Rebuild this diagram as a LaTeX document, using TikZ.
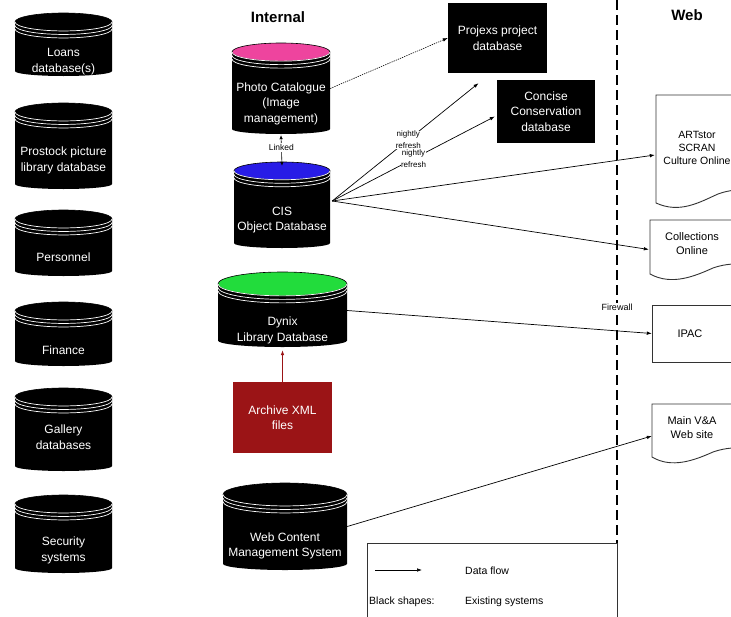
\documentclass[tikz,border=0pt]{standalone}
\usepackage{fontspec}
\setmainfont{Liberation Sans}
\usetikzlibrary{arrows.meta,calc}

\definecolor{pinktop}{RGB}{238,68,158}
\definecolor{bluetop}{RGB}{40,28,230}
\definecolor{greentop}{RGB}{34,220,60}
\definecolor{archred}{RGB}{155,20,22}

% #1 name, #2 centre x, #3 top y, #4 bottom y (pixels, downwards), #5 half width, #6 top colour
\newcommand{\dbcyl}[6]{%
  \pgfmathsetmacro\cyry{#5*0.185}%
  \pgfmathsetmacro\cyrb{#5*0.1}%
  \pgfmathsetmacro\cyt{-(#3)-\cyry}%
  \pgfmathsetmacro\cyb{-(#4)+\cyrb}%
  \fill[black] (#2-#5,\cyt) -- (#2-#5,\cyb) arc[start angle=180,end angle=360,x radius=#5pt,y radius=\cyrb pt] -- (#2+#5,\cyt) -- cycle;
  \filldraw[fill=#6,draw=black,line width=0.6pt] (#2,\cyt) ellipse[x radius=#5pt,y radius=\cyry pt];
  \foreach \k in {0,3.5,7} \draw[white,line width=0.7pt] (#2-#5,\cyt-\k) arc[start angle=180,end angle=360,x radius=#5pt,y radius=\cyry pt];
  \node[inner sep=0,minimum width=2*#5,minimum height=#4-#3] (#1) at (#2,{-(#3+#4)/2}) {};
}

\tikzset{
  cyltext/.style={text=white,align=center,inner sep=0,font=\fontsize{12}{15.5}\selectfont},
  blackbox/.style={fill=black,text=white,align=center,inner sep=0,font=\fontsize{12}{15.5}\selectfont},
  doctext/.style={text=black,align=center,inner sep=0,font=\fontsize{11}{14.5}\selectfont},
  docline/.style={draw=black!80,line width=0.9pt,fill=white},
  anchorbox/.style={inner sep=0},
  flow/.style={-{Latex[length=5pt,width=3.6pt]},line width=0.7pt},
  nightly/.style={fill=white,align=center,inner sep=0.5pt,font=\fontsize{8}{11.5}\selectfont},
  smalllabel/.style={fill=white,inner sep=1pt,font=\fontsize{8.5}{10}\selectfont},
  titletext/.style={font=\bfseries\fontsize{15}{17}\selectfont,inner sep=0},
  legendtext/.style={anchor=west,inner sep=0,font=\fontsize{10.5}{12}\selectfont}
}

\begin{document}
\begin{tikzpicture}[x=1pt,y=1pt]
\useasboundingbox (0,0) rectangle (731,-616);
\clip (0,0) rectangle (731,-616);
\fill[white] (0,0) rectangle (731,-616);

% titles
\node[titletext] (internal) at (278,-17) {Internal};
\node[titletext] (web) at (687,-15) {Web};

% firewall line
\coordinate (fwtop) at (617,0);
\coordinate (fwbot) at (617,-543);
\draw[line width=1.1pt,dash pattern=on 10pt off 5pt] (fwtop) -- (fwbot);

% left column cylinders
\dbcyl{loans}{63.5}{13}{76}{48.5}{black}
\node[cyltext] (loanst) at (63.5,-61.5) {Loans\\database(s)};
\dbcyl{prostock}{63.5}{103}{189}{48.5}{black}
\node[cyltext] (prostockt) at (63.5,-160.5) {Prostock picture\\library database};
\dbcyl{personnel}{63.5}{210}{276}{48.5}{black}
\node[cyltext] (personnelt) at (63.5,-257) {Personnel};
\dbcyl{finance}{63.5}{302}{366}{48.5}{black}
\node[cyltext] (financet) at (63.5,-350) {Finance};
\dbcyl{gallery}{63.5}{388}{471}{48.5}{black}
\node[cyltext] (galleryt) at (63.5,-437) {Gallery\\databases};
\dbcyl{security}{63.5}{495}{573}{48.5}{black}
\node[cyltext] (securityt) at (63.5,-550.5) {Security\\systems};

% middle column
\dbcyl{photo}{281}{43}{134}{49}{pinktop}
\node[cyltext] (photot) at (281,-103.5) {Photo Catalogue\\(Image\\management)};
\dbcyl{cis}{282}{162}{248}{48}{bluetop}
\node[cyltext] (cist) at (282,-220) {CIS\\Object Database};
\dbcyl{dynix}{282.5}{272}{347}{64.5}{greentop}
\node[cyltext] (dynixt) at (282.5,-330.5) {Dynix\\Library Database};
\node[fill=archred,text=white,align=center,inner sep=0,minimum width=99,minimum height=71,font=\fontsize{12}{15.5}\selectfont] (archive) at (282.5,-417.5) {Archive XML\\files};
\dbcyl{webcms}{285}{483}{570}{62}{black}
\node[cyltext] (webcmst) at (285,-546) {Web Content\\Management System};

% black boxes
\node[blackbox,minimum width=99,minimum height=70] (projexs) at (497.5,-38) {Projexs project\\database};
\node[blackbox,minimum width=98,minimum height=63] (concise) at (546,-111.5) {Concise\\Conservation\\database};

% web documents
\draw[docline] (656,-203) -- (656,-95) -- (775,-95) -- (775,-200) .. controls (750,-188) and (735,-188) .. (718,-194) .. controls (700,-202) and (680,-214) .. cycle;
\node[anchorbox,minimum width=119,minimum height=110] (artstor) at (715.5,-150) {};
\node[doctext,font=\fontsize{10.5}{12.8}\selectfont] (artstort) at (697,-148) {ARTstor\\SCRAN\\Culture Online};

\draw[docline] (650,-274) -- (650,-220) -- (775,-220) -- (775,-272) .. controls (750,-262) and (730,-262) .. (713,-268) .. controls (695,-276) and (672,-286) .. cycle;
\node[anchorbox,minimum width=125,minimum height=55] (collections) at (712.5,-247.5) {};
\node[doctext] (collectionst) at (692,-243.5) {Collections\\Online};

\draw[docline] (652,-305) rectangle (775,-362);
\node[anchorbox,minimum width=123,minimum height=57] (ipac) at (713.5,-333.5) {};
\node[doctext] (ipact) at (690,-334) {IPAC};

\draw[docline] (652,-457) -- (652,-404) -- (775,-404) -- (775,-455) .. controls (750,-446) and (730,-446) .. (713,-452) .. controls (695,-460) and (672,-469) .. cycle;
\node[anchorbox,minimum width=123,minimum height=56] (mainva) at (713.5,-432) {};
\node[doctext] (mainvat) at (692,-427.5) {Main V\&A\\Web site};

% connectors
\draw[flow,line width=0.6pt,dash pattern=on 1.3pt off 1pt] (photo.east) -- (projexs.west);
\draw[flow] ($(cis.east)+(2,4)$) -- ($(projexs.south)+(-19,-10)$) node[pos=0.52,nightly] (n1) {nightly\\refresh};
\draw[flow] ($(cis.east)+(2,4)$) -- ($(concise.west)+(-2,-5)$) node[midway,nightly] (n2) {nightly\\refresh};
\draw[flow] ($(cis.east)+(2,4)$) -- ($(artstor.west)+(-1,-5)$);
\draw[flow] ($(cis.east)+(2,4)$) -- ($(collections.west)+(-1,-2)$);
\draw[flow] ($(dynix.east)+(0,-1)$) -- (ipac.west);
\draw[flow] (webcms.east) -- ($(mainva.west)+(0,-4)$);
\draw[flow,archred] (archive.north) -- ($(dynix.south)+(0,-3)$);
\draw[{Latex[length=4pt,width=3.5pt]}-{Latex[length=4pt,width=3.5pt]},line width=0.6pt] ($(photo.south)+(0,-1)$) -- ($(cis.north)+(0,-4)$) node[pos=0.4,smalllabel] (linked) {Linked};

\node[smalllabel,font=\fontsize{9}{10}\selectfont] (firewall) at (617,-307) {Firewall};

% legend
\draw[line width=0.9pt,draw=black!80] (367,-543) rectangle (617,-625);
\node[anchorbox,minimum width=250,minimum height=80] (legend) at (492,-583) {};
\coordinate (lgA) at (375,-570);
\coordinate (lgB) at (422,-570);
\draw[flow] (lgA) -- (lgB);
\node[legendtext] (dataflow) at (465,-571) {Data flow};
\node[legendtext] (blackshapes) at (369,-602) {Black shapes:};
\node[legendtext] (existing) at (465,-602) {Existing systems};
\end{tikzpicture}
\end{document}
